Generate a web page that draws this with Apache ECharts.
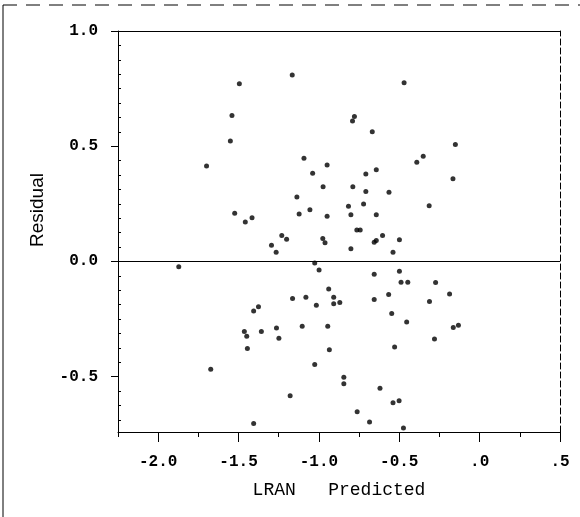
<!DOCTYPE html>
<html>
<head>
<meta charset="utf-8">
<script src="https://cdn.jsdelivr.net/npm/echarts@6/dist/echarts.min.js"></script>
<style>
html,body{margin:0;padding:0;background:#fff;}
#chart{width:580px;height:517px;}
</style>
</head>
<body>
<div id="chart"></div>
<script>
// Predicted LRAN (x) and residual (y)
const predicted = [
 -1.166,-1.495,-1.541,-1.551,-1.699,-1.093,-0.949,-1.039,-0.974,-1.137,
 -1.056,-1.123,-0.949,-1.524,-1.416,-1.458,-1.231,-1.201,-0.976,-0.962,
 -1.295,-1.266,-0.470,-0.779,-0.791,-0.668,-0.789,-0.708,-0.643,-0.708,
 -0.564,-0.391,-0.351,-0.314,-0.816,-0.722,-0.801,-0.643,-0.764,-0.743,
 -0.604,-0.656,-0.643,-0.499,-0.801,-0.539,-0.151,-0.166,
 -1.872,-1.026,-0.999,-0.939,-1.164,-1.081,-1.016,-1.406,-1.376,-1.464,
 -1.449,-1.358,-1.264,-1.249,-1.104,-0.945,-1.445,-0.935,-1.673,-1.026,
 -1.179,-1.406,-0.656,-0.499,-0.489,-0.447,-0.274,-0.908,-0.908,-0.870,
 -0.656,-0.566,-0.312,-0.187,-0.547,-0.454,-0.281,-0.529,-0.845,-0.845,
 -0.620,-0.539,-0.501,-0.762,-0.685,-0.474,-0.164,-0.132
];
const residual = [
 0.809,0.771,0.633,0.523,0.414,0.448,0.419,0.383,0.324,0.280,
 0.224,0.206,0.196,0.209,0.190,0.171,0.113,0.096,0.100,0.081,
 0.070,0.040,0.775,0.629,0.610,0.563,0.324,0.380,0.398,0.304,
 0.300,0.430,0.457,0.242,0.240,0.249,0.203,0.203,0.136,0.136,
 0.113,0.083,0.091,0.094,0.055,0.040,0.507,0.359,
 -0.023,-0.007,-0.037,-0.119,-0.161,-0.155,-0.190,-0.215,-0.196,-0.304,
 -0.325,-0.304,-0.289,-0.333,-0.281,-0.281,-0.378,-0.383,-0.468,-0.447,
 -0.583,-0.703,-0.055,-0.043,-0.090,-0.090,-0.091,-0.155,-0.183,-0.178,
 -0.165,-0.143,-0.174,-0.141,-0.226,-0.263,-0.336,-0.371,-0.502,-0.531,
 -0.550,-0.613,-0.604,-0.652,-0.697,-0.723,-0.287,-0.277
];
const xTickValues = [-2.0,-1.5,-1.0,-0.5,0.0,0.5];
const xTickLabels = ['-2.0','-1.5','-1.0','-0.5','.0','.5'];
const xMinorTicks = [-2.25,-1.75,-1.25,-0.75,-0.25,0.25];
const yTickValues = [-0.5,0.0,0.5,1.0];
const yTickLabels = ['-0.5','0.0','0.5','1.0'];
const yMinorTicks = [-0.6875,-0.625,-0.5625,-0.4375,-0.375,-0.3125,-0.25,-0.1875,-0.125,-0.0625,
 0.0625,0.125,0.1875,0.25,0.3125,0.375,0.4375,0.5625,0.625,0.6875,0.75,0.8125,0.875,0.9375];
const xTitle = 'LRAN   Predicted';
const yTitle = 'Residual';

const points = predicted.map((x,i)=>[x,residual[i]]);
function lab(values, labels){
  return function(v){
    for(let i=0;i<values.length;i++){ if(Math.abs(values[i]-v)<1e-9) return labels[i]; }
    return '';
  };
}
const mono = '"Liberation Mono","Courier New",monospace';
const XMIN=-2.25, XMAX=0.5, YMIN=-0.74, YMAX=1.0;
const blank = {splitLine:{show:false},axisLabel:{show:false}};
const chart = echarts.init(document.getElementById('chart'), null, {renderer:'canvas'});
chart.setOption({
  animation:false,
  backgroundColor:'#fff',
  grid:{left:118,right:20,top:31,bottom:85},
  xAxis:[{
    type:'value',min:XMIN,max:XMAX,position:'bottom',
    splitLine:{show:false},
    axisLine:{onZero:false,lineStyle:{color:'#000',width:1}},
    axisTick:{customValues:xTickValues,length:10,lineStyle:{color:'#000'}},
    axisLabel:{customValues:xTickValues,formatter:lab(xTickValues,xTickLabels),fontFamily:mono,fontSize:16,fontWeight:'bold',color:'#000',margin:22},
    name:xTitle,nameLocation:'middle',nameGap:49,
    nameTextStyle:{fontFamily:mono,fontSize:18,color:'#000'}
  },{
    type:'value',min:XMIN,max:XMAX,position:'bottom',...blank,
    axisLine:{show:false,onZero:false},
    axisTick:{customValues:xMinorTicks,length:5,lineStyle:{color:'#000'}}
  },{
    type:'value',min:XMIN,max:XMAX,position:'top',...blank,
    axisLine:{show:true,onZero:false,lineStyle:{color:'#000',width:1}},
    axisTick:{show:false}
  }],
  yAxis:[{
    type:'value',min:YMIN,max:YMAX,position:'left',
    splitLine:{show:false},
    axisLine:{onZero:false,lineStyle:{color:'#000',width:1}},
    axisTick:{customValues:yTickValues,length:7,lineStyle:{color:'#000'}},
    axisLabel:{customValues:yTickValues,formatter:lab(yTickValues,yTickLabels),fontFamily:mono,fontSize:16,fontWeight:'bold',color:'#000',margin:20}
  },{
    type:'value',min:YMIN,max:YMAX,position:'left',...blank,
    axisLine:{show:false,onZero:false},
    axisTick:{customValues:yMinorTicks,inside:true,length:3,lineStyle:{color:'#000'}}
  },{
    type:'value',min:YMIN,max:YMAX,position:'right',...blank,
    axisLine:{show:true,onZero:false,lineStyle:{color:'#000',width:1,type:[6,3]}},
    axisTick:{show:false}
  }],
  graphic:[
    {type:'text',x:38,y:210,rotation:Math.PI/2,
     style:{text:yTitle,font:'19px "Liberation Sans", Arial, sans-serif',fill:'#000',textAlign:'center',textVerticalAlign:'middle'}},
    {type:'line',shape:{x1:3,y1:5,x2:3,y2:517},style:{stroke:'#000',lineWidth:1}},
    {type:'line',shape:{x1:3,y1:5,x2:580,y2:5},style:{stroke:'#000',lineWidth:1,lineDash:[14,9]}}
  ],
  series:[{
    type:'scatter',xAxisIndex:0,yAxisIndex:0,
    symbol:'circle',symbolSize:5,
    itemStyle:{color:'#000'},
    data:points,
    markLine:{silent:true,symbol:'none',label:{show:false},
      lineStyle:{color:'#000',type:'solid',width:1},
      data:[{yAxis:0}]}
  }]
});
</script>
</body>
</html>
